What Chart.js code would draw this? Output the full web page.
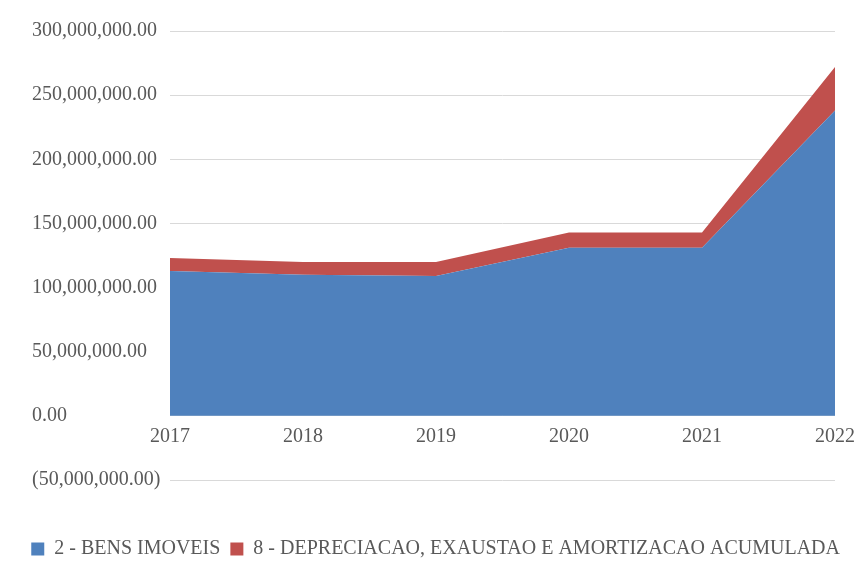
<!DOCTYPE html>
<html>
<head>
<meta charset="utf-8">
<script src="https://cdn.jsdelivr.net/npm/chart.js@4/dist/chart.umd.min.js"></script>
<style>
  html, body { margin: 0; padding: 0; background: #fff; }
  #wrap { width: 858px; height: 565px; }
</style>
</head>
<body>
<div id="wrap"><canvas id="chart-bens"></canvas></div>
<script>
// anos e valores (R$) por conta
const anos = ["2017", "2018", "2019", "2020", "2021", "2022"]
const bensImoveis = [113000000, 110000000, 109000000, 131000000, 131000000, 238000000]
const depreciacao = [10000000, 10000000, 11000000, 12000000, 12000000, 34000000]
const yMin = -50000000
const yMax = 300000000
const yStep = 50000000

const serif = "'Liberation Serif', 'Times New Roman', serif"
const cinza = "#595959"

function moeda(v) {
  const s = Math.abs(v).toLocaleString("en-US", { minimumFractionDigits: 2, maximumFractionDigits: 2 })
  return v < 0 ? "(" + s + ")" : s
}

// empurra os rótulos do eixo y para dentro, sem apertar a legenda
const recuoEixoY = {
  id: "recuoEixoY",
  afterLayout(chart) { chart.scales.y.left = 32 }
}

new Chart(document.getElementById("chart-bens"), {
  type: "line",
  data: {
    labels: anos,
    datasets: [{
      label: "2 - BENS IMOVEIS",
      data: bensImoveis,
      backgroundColor: "#4f81bd",
      borderColor: "#4f81bd",
      borderWidth: 0,
      pointRadius: 0,
      fill: "origin"
    }, {
      label: "8 - DEPRECIACAO, EXAUSTAO E AMORTIZACAO ACUMULADA",
      data: depreciacao,
      backgroundColor: "#c0504d",
      borderColor: "#c0504d",
      borderWidth: 0,
      pointRadius: 0,
      fill: "-1"
    }]
  },
  plugins: [recuoEixoY],
  options: {
    responsive: true,
    maintainAspectRatio: false,
    animation: false,
    layout: { padding: { left: 0, right: 8, top: 31, bottom: -4 } },
    plugins: {
      tooltip: { enabled: false },
      legend: {
        position: "bottom",
        align: "end",
        // título vazio só para afastar a legenda do gráfico
        title: { display: true, text: " ", font: { size: 10 }, padding: { top: 37, bottom: 0 } },
        labels: {
          boxWidth: 13,
          boxHeight: 13,
          padding: 10,
          color: cinza,
          font: { family: serif, size: 20 }
        }
      }
    },
    scales: {
      x: {
        position: { y: 0 },
        offset: false,
        afterFit: scale => { scale.paddingLeft = 0; scale.paddingRight = 23 },
        grid: { display: false, drawTicks: false },
        border: { display: false },
        ticks: { color: cinza, padding: 9, maxRotation: 0, font: { family: serif, size: 20 } }
      },
      y: {
        stacked: true,
        min: yMin,
        max: yMax,
        afterFit: scale => { scale.width = 170 },
        grid: { color: "#d9d9d9", drawTicks: false },
        border: { display: false },
        ticks: {
          stepSize: yStep,
          color: cinza,
          crossAlign: "far",
          padding: 10,
          font: { family: serif, size: 20 },
          callback: v => moeda(v)
        }
      }
    }
  }
})
</script>
</body>
</html>
